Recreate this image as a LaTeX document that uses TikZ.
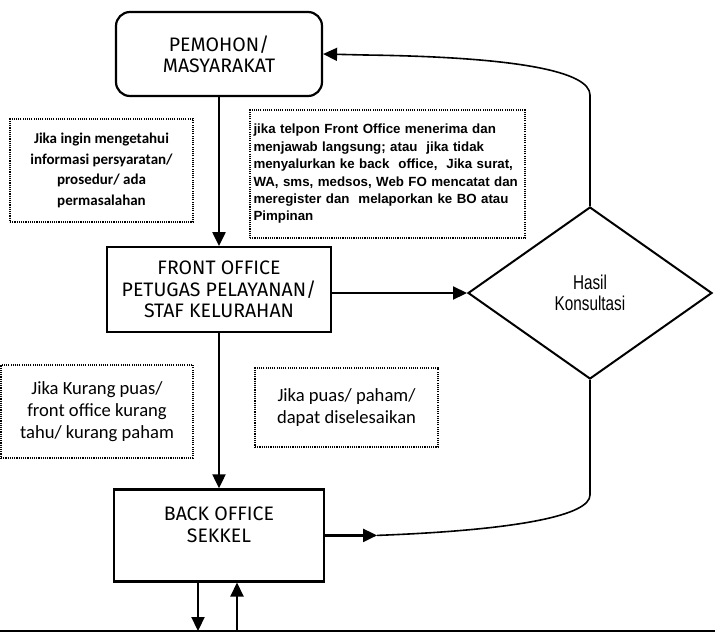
\documentclass[tikz,border=0pt]{standalone}
\usepackage{fontspec}
\newfontfamily\boxfont{Fira Sans}
\newfontfamily\notefont{Carlito}
\newfontfamily\arialfont{Liberation Sans}
\newfontfamily\narrowfont[FakeStretch=0.765]{Liberation Sans}
\usetikzlibrary{shapes.geometric,arrows.meta,positioning}

\tikzset{
  box/.style={draw, line width=2.2pt, align=center, inner sep=0pt,
    font=\boxfont\fontsize{19.5}{21.5}\selectfont},
  note/.style={draw, line width=1.1pt, dash pattern=on 1.1pt off 1.1pt, inner sep=3pt},
  decision/.style={diamond, draw, line width=2pt, inner sep=0pt, align=center,
    minimum width=244pt, minimum height=172pt,
    font=\narrowfont\fontsize{20}{21}\selectfont},
  arr/.style={line width=2.2pt, -{Triangle[length=14pt,width=13pt]}},
  link/.style={line width=1.6pt}
}

\begin{document}
\begin{tikzpicture}[x=1pt, y=-1pt]
\useasboundingbox (0,0) rectangle (715,632);

% Define nodes
\node[box, rounded corners=14pt, minimum width=206pt, minimum height=84pt] (pemohon) at (219,54) {PEMOHON/\\MASYARAKAT};
\node[box, minimum width=224pt, minimum height=85pt, below=149pt of pemohon] (fo) {FRONT OFFICE\\PETUGAS PELAYANAN/\\STAF KELURAHAN};
\node[box, minimum width=210pt, minimum height=92pt, below=155pt of fo] (bo) {BACK OFFICE\\SEKKEL\\~};
\node[decision] (hasil) at (590,293) {Hasil\\Konsultasi};

% Notes
\node[note, align=center, minimum width=183pt, minimum height=103pt,
  font=\notefont\bfseries\fontsize{15}{20.5}\selectfont] (askinfo) at (101.5,170.5)
  {Jika ingin mengetahui\\informasi persyaratan/\\prosedur/ ada\\permasalahan};
\node[note, align=left, text width=268pt, inner xsep=3.5pt, minimum height=128pt,
  font=\arialfont\bfseries\fontsize{13.3}{17.4}\selectfont] (fonote) at (387.5,174)
  {jika telpon Front Office menerima dan\\menjawab langsung; atau~ jika tidak\\menyalurkan ke back~ office,~ Jika surat,\\WA, sms, medsos, Web FO mencatat dan\\meregister dan~ melaporkan ke BO atau\\Pimpinan};
\node[note, align=center, minimum width=192pt, minimum height=93pt,
  font=\notefont\fontsize{18.6}{22}\selectfont] (kurang) at (97,411.5)
  {Jika Kurang puas/\\front office kurang\\tahu/ kurang paham};
\node[note, align=center, minimum width=183pt, minimum height=79pt,
  font=\notefont\fontsize{18.6}{22}\selectfont] (puas) at (346.5,407.5)
  {Jika puas/ paham/\\dapat diselesaikan};

% Connect the nodes
\draw[arr] (pemohon) -- (fo);
\draw[arr] (fo) -- (bo);
\draw[arr] (fo.east |- hasil.west) -- (hasil.west);
\draw[link, -{Triangle[length=14pt,width=13pt]}] (hasil.north) -- (590,95)
  .. controls (590,72) and (520,57) .. (365,55) -- (pemohon.east);
\draw[arr] (bo.east) -- ++(52,0) coordinate (bohook);
\draw[link] (bohook) .. controls (520,530) and (590,515) .. (590,495) -- (hasil.south);

% Cut-off edge below
\coordinate (cutl) at (0,631);
\coordinate (cutr) at (715,631);
\draw[link] (cutl) -- (cutr);
\draw[arr] ([xshift=-21pt]bo.south) -- ([xshift=-21pt]bo.south |- cutl);
\draw[arr] ([xshift=18pt]bo.south |- cutl) -- ([xshift=18pt]bo.south);

\end{tikzpicture}
\end{document}
